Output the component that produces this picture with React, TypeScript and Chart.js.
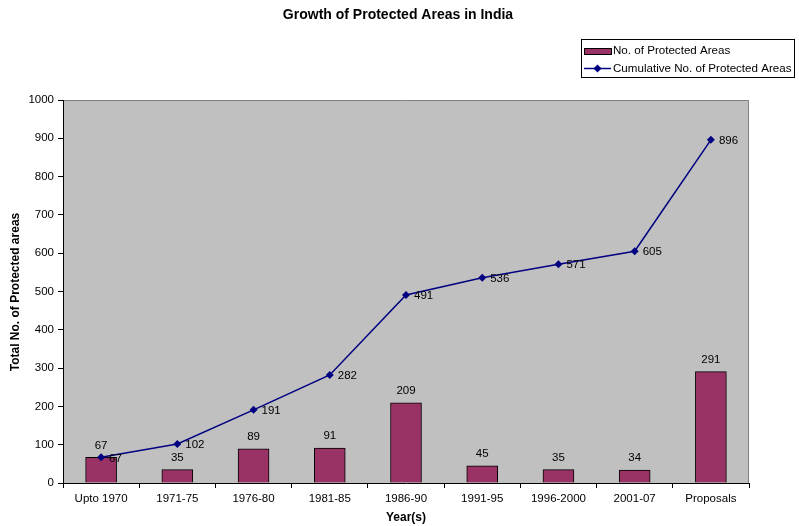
import React, { useEffect, useRef } from "react";
import { Chart, registerables } from "chart.js";

Chart.register(...registerables);

const categories = ["Upto 1970", "1971-75", "1976-80", "1981-85", "1986-90", "1991-95", "1996-2000", "2001-07", "Proposals"];
const protectedAreas = [67, 35, 89, 91, 209, 45, 35, 34, 291];
const cumulativeAreas = [67, 102, 191, 282, 491, 536, 571, 605, 896];
const chartTitle = "Growth of Protected Areas in India";
const yTitle = "Total No. of Protected areas";
const xTitle = "Year(s)";
const barLabel = "No. of Protected Areas";
const lineLabel = "Cumulative No. of Protected Areas";

const FONT = "Arial, 'Liberation Sans', sans-serif";
const BAR_COLOR = "#993366";
const LINE_COLOR = "#000080";

const decorPlugin = {
  id: "decor",
  beforeDraw(chart: any) {
    const { ctx, chartArea: a } = chart;
    ctx.save();
    ctx.fillStyle = "#ffffff";
    ctx.fillRect(0, 0, chart.width, chart.height);
    ctx.fillStyle = "#C0C0C0";
    ctx.fillRect(a.left, a.top, a.right - a.left, a.bottom - a.top);
    ctx.strokeStyle = "#808080";
    ctx.lineWidth = 1;
    ctx.beginPath();
    ctx.moveTo(a.left, a.top + 0.5);
    ctx.lineTo(a.right - 0.5, a.top + 0.5);
    ctx.lineTo(a.right - 0.5, a.bottom);
    ctx.stroke();
    ctx.restore();
  },
  afterDraw(chart: any) {
    const { ctx, chartArea: a } = chart;
    ctx.save();
    ctx.fillStyle = "#000";
    // Title
    ctx.font = `bold 14px ${FONT}`;
    ctx.textAlign = "center";
    ctx.textBaseline = "middle";
    ctx.fillText(chartTitle, 398, 15);
    // X title
    ctx.font = `bold 12px ${FONT}`;
    ctx.fillText(xTitle, (a.left + a.right) / 2, 518);
    // Y title
    ctx.save();
    ctx.translate(16, 292);
    ctx.rotate(-Math.PI / 2);
    ctx.fillText(yTitle, 0, 0);
    ctx.restore();
    // Legend
    const lx = 581, ly = 39, lw = 213, lh = 38;
    ctx.strokeStyle = "#000";
    ctx.lineWidth = 1;
    ctx.strokeRect(lx + 0.5, ly + 0.5, lw, lh);
    ctx.fillStyle = BAR_COLOR;
    ctx.fillRect(584, 48, 27, 6);
    ctx.strokeRect(584.5, 48.5, 27, 6);
    ctx.strokeStyle = LINE_COLOR;
    ctx.lineWidth = 1.5;
    ctx.beginPath();
    ctx.moveTo(584, 68.5);
    ctx.lineTo(611, 68.5);
    ctx.stroke();
    ctx.fillStyle = LINE_COLOR;
    ctx.beginPath();
    ctx.moveTo(597.5, 64.5);
    ctx.lineTo(601.5, 68.5);
    ctx.lineTo(597.5, 72.5);
    ctx.lineTo(593.5, 68.5);
    ctx.closePath();
    ctx.fill();
    ctx.fillStyle = "#000";
    ctx.font = `11.6px ${FONT}`;
    ctx.textAlign = "left";
    ctx.fillText(barLabel, 613, 51);
    ctx.fillText(lineLabel, 613, 68.5);
    // Data labels
    ctx.font = `11.5px ${FONT}`;
    const barMeta = chart.getDatasetMeta(0);
    barMeta.data.forEach((el: any, i: number) => {
      ctx.textAlign = "center";
      ctx.fillText(String(protectedAreas[i]), el.x, el.y - 12);
    });
    const lineMeta = chart.getDatasetMeta(1);
    lineMeta.data.forEach((el: any, i: number) => {
      ctx.textAlign = "left";
      ctx.fillText(String(cumulativeAreas[i]), el.x + 8, el.y + 1);
    });
    ctx.restore();
  },
};

export default function App() {
  const ref = useRef<HTMLCanvasElement>(null);
  useEffect(() => {
    document.body.style.margin = "0";
    const chart = new Chart(ref.current!, {
      type: "bar",
      data: {
        labels: categories,
        datasets: [
          {
            type: "bar",
            label: barLabel,
            data: protectedAreas,
            backgroundColor: BAR_COLOR,
            borderColor: "#000",
            borderWidth: 1,
            barThickness: 31,
            order: 2,
          },
          {
            type: "line",
            label: lineLabel,
            data: cumulativeAreas,
            borderColor: LINE_COLOR,
            backgroundColor: LINE_COLOR,
            borderWidth: 1.5,
            pointStyle: "rectRot",
            pointRadius: 4,
            pointBorderWidth: 0,
            tension: 0,
            order: 1,
          } as any,
        ],
      },
      options: {
        animation: false,
        responsive: false,
        layout: { padding: { top: 100, right: 50, left: 0, bottom: 0 } },
        plugins: { legend: { display: false }, title: { display: false }, tooltip: { enabled: false } },
        scales: {
          x: {
            offset: true,
            grid: { display: true, offset: true, drawOnChartArea: false, drawTicks: true, tickLength: 5, color: "#000" },
            border: { color: "#000", width: 1 },
            ticks: { color: "#000", font: { family: FONT, size: 11.5 }, padding: 4, maxRotation: 0, autoSkip: false },
            afterFit: (s: any) => { s.height = 43; },
          },
          y: {
            min: 0,
            max: 1000,
            grid: { display: true, drawOnChartArea: false, drawTicks: true, tickLength: 5, color: "#000" },
            border: { color: "#000", width: 1 },
            ticks: {
              stepSize: 100,
              color: "#000",
              font: { family: FONT, size: 11.5 },
              padding: 4,
              callback: (v: any) => String(v),
            },
            afterFit: (s: any) => { s.width = 63; },
          },
        },
      },
      plugins: [decorPlugin],
    });
    return () => chart.destroy();
  }, []);
  return (
    <div style={{ width: 799, height: 526 }}>
      <canvas ref={ref} width={799} height={526} style={{ display: "block" }} />
    </div>
  );
}
